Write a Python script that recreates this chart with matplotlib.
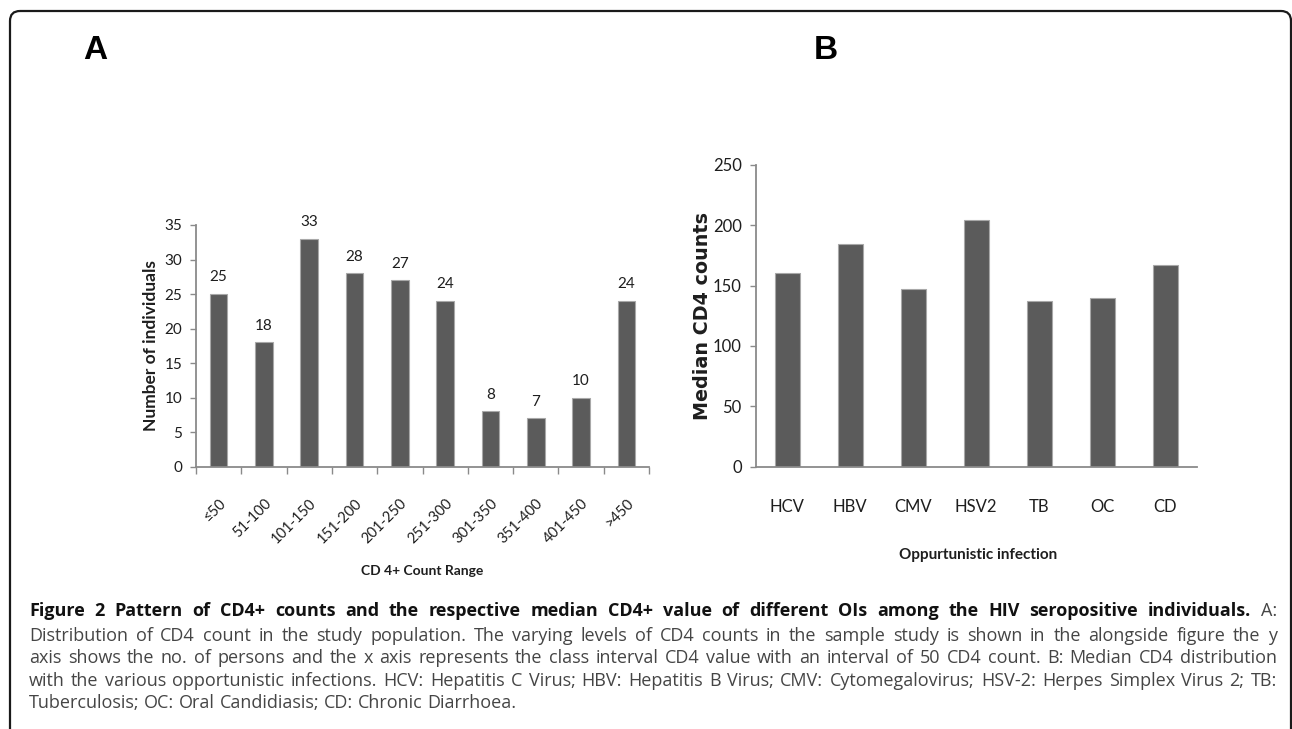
import matplotlib
matplotlib.use('Agg')
import matplotlib.pyplot as plt
from matplotlib.patches import FancyBboxPatch
import numpy as np

# panel A data
cd4_ranges = ['≤50', '51-100', '101-150', '151-200', '201-250', '251-300',
              '301-350', '351-400', '401-450', '>450']
n_individuals = [25, 18, 33, 28, 27, 24, 8, 7, 10, 24]

# panel B data
infections = ['HCV', 'HBV', 'CMV', 'HSV2', 'TB', 'OC', 'CD']
median_cd4 = [160, 184, 147, 204, 137, 140, 167]

caption_bold = 'Figure 2 Pattern of CD4+ counts and the respective median CD4+ value of different OIs among the HIV seropositive individuals.'
caption_lines = [
    'Distribution of CD4 count in the study population. The varying levels of CD4 counts in the sample study is shown in the alongside figure the y',
    'axis shows the no. of persons and the x axis represents the class interval CD4 value with an interval of 50 CD4 count. B: Median CD4 distribution',
    'with the various opportunistic infections. HCV: Hepatitis C Virus; HBV: Hepatitis B Virus; CMV: Cytomegalovirus; HSV-2: Herpes Simplex Virus 2; TB:',
    'Tuberculosis; OC: Oral Candidiasis; CD: Chronic Diarrhoea.',
]

W, H = 1292, 729
chart_font = ['Lato', 'DejaVu Sans']
bar_col = '#5b5b5b'
edge_col = '#a8a8a8'
spine_col = '#8a8a8a'
txt_col = '#1e1e1e'

fig = plt.figure(figsize=(W / 100, H / 100), dpi=100)

# overlay in pixel units for frame, panel letters and caption
ov = fig.add_axes([0, 0, 1, 1])
ov.set_xlim(0, W)
ov.set_ylim(H, 0)
ov.axis('off')
ov.add_patch(FancyBboxPatch((10, 11), 1281, 760, boxstyle='round,pad=0,rounding_size=10',
                            fill=False, ec='#1a1a1a', lw=1.6, clip_on=False))
ov.text(95, 50, 'A', fontsize=24, fontweight='bold', family='Liberation Sans',
        ha='center', va='center', color='black')
ov.text(826, 50, 'B', fontsize=24, fontweight='bold', family='Liberation Sans',
        ha='center', va='center', color='black')


def style_axes(ax, ysize):
    ax.spines['top'].set_visible(False)
    ax.spines['right'].set_visible(False)
    for s in ['left', 'bottom']:
        ax.spines[s].set_color(spine_col)
        ax.spines[s].set_linewidth(1.3)
    ax.tick_params(axis='y', direction='out', length=4, color=spine_col, width=1.0, pad=6)
    for lab in ax.get_yticklabels():
        lab.set_family(chart_font)
        lab.set_fontsize(ysize)
        lab.set_color(txt_col)


# ---- panel A
axA = fig.add_axes([196 / W, 1 - 466.7 / H, 453 / W, 241.7 / H])
xA = np.arange(len(cd4_ranges))
barsA = axA.bar(xA, n_individuals, width=0.39, color=bar_col, edgecolor=edge_col, linewidth=0.8)
axA.set_xlim(-0.5, len(cd4_ranges) - 0.5)
axA.set_ylim(0, 35)
axA.set_yticks(range(0, 36, 5))
style_axes(axA, 11)
axA.set_xticks(xA)
axA.set_xticklabels(cd4_ranges, rotation=45, ha='right', rotation_mode='anchor',
                    family=chart_font, fontsize=10.5, color=txt_col)
axA.tick_params(axis='x', length=0, pad=21)
axA.set_xticks(np.arange(-0.5, len(cd4_ranges)), minor=True)
axA.tick_params(axis='x', which='minor', direction='out', length=5, color=spine_col, width=1.0)
axA.bar_label(barsA, padding=7, family=chart_font, fontsize=11, color=txt_col)
axA.set_ylabel('Number of individuals', family=chart_font, fontweight='bold', fontsize=12.5,
               color=txt_col)
axA.yaxis.set_label_coords(-0.082, 0.5)
axA.set_xlabel('CD 4+ Count Range', family=chart_font, fontweight='bold', fontsize=10,
               color=txt_col)
axA.xaxis.set_label_coords(0.5, -0.405)

# ---- panel B
axB = fig.add_axes([755.7 / W, 1 - 466.7 / H, 441 / W, 302 / H])
xB = np.arange(len(infections))
axB.bar(xB, median_cd4, width=0.4, color=bar_col, edgecolor=edge_col, linewidth=0.8)
axB.set_xlim(-0.5, len(infections) - 0.5)
axB.set_ylim(0, 250)
axB.set_yticks(range(0, 251, 50))
style_axes(axB, 12)
axB.set_xticks(xB)
axB.set_xticklabels(infections, family=chart_font, fontsize=12, color=txt_col)
axB.tick_params(axis='x', length=0, pad=23)
axB.set_ylabel('Median CD4 counts', family='DejaVu Sans', fontweight='bold', fontsize=13.8,
               color=txt_col)
axB.yaxis.set_label_coords(-0.100, 0.5)
axB.set_xlabel('Oppurtunistic infection', family=chart_font, fontweight='bold', fontsize=11,
               color=txt_col)
axB.xaxis.set_label_coords(0.504, -0.268)

# ---- caption, justified between the margins
renderer = fig.canvas.get_renderer()
x0, x1 = 29, 1277
last_line_end = 513


def text_width(s, size, weight='normal'):
    t = ov.text(0, 0, s, fontsize=size, family='Open Sans', fontweight=weight)
    w = t.get_window_extent(renderer).width
    t.remove()
    return w


# scale the caption size so the unjustified last line ends where it does in the figure
cap_size = 12 * (last_line_end - x0) / text_width(caption_lines[-1], 12)


def justify(words, y, last=False):
    texts = []
    for w, wt in words:
        texts.append(ov.text(0, y, w, fontsize=cap_size, family='Open Sans', fontweight=wt,
                             va='center', ha='left',
                             color='#454545' if wt == 'normal' else '#111111'))
    widths = [t.get_window_extent(renderer).width for t in texts]
    if last:
        gap = text_width('a a', cap_size) - text_width('aa', cap_size)
    else:
        gap = (x1 - x0 - sum(widths)) / (len(words) - 1)
    x = x0
    for t, w in zip(texts, widths):
        t.set_x(x)
        x += w + gap


first = [(w, 'bold') for w in caption_bold.split()] + [('A:', 'normal')]
justify(first, 611)
ys = [636, 658, 681, 703]
for i, line in enumerate(caption_lines):
    justify([(w, 'normal') for w in line.split()], ys[i], last=(i == len(caption_lines) - 1))

fig.savefig('out.png', dpi=100)
